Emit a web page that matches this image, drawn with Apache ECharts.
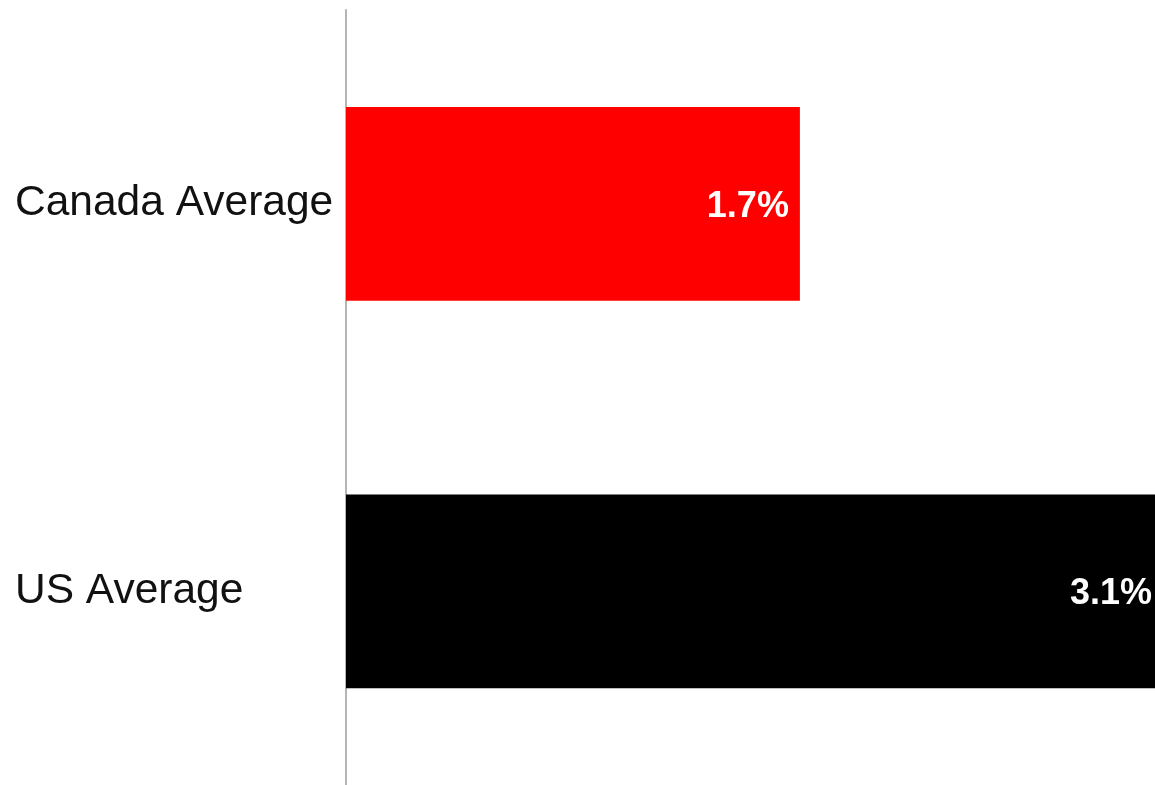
<!DOCTYPE html>
<html>
<head>
<meta charset="utf-8">
<script src="https://cdn.jsdelivr.net/npm/echarts@6/dist/echarts.min.js"></script>
<style>
  html, body { margin: 0; padding: 0; background: #fff; }
  #chart { width: 1155px; height: 785px; }
</style>
</head>
<body>
<div id="chart"></div>
<script>
// 类别与数值
const categories = ['Canada Average', 'US Average'];
const values = [1.7, 3.1];
const barColors = ['#ff0000', '#000000'];

const myChart = echarts.init(document.getElementById('chart'));

const option = {
  animation: false,
  grid: {
    left: 346,
    top: 10,
    right: 0,
    bottom: 0
  },
  xAxis: {
    type: 'value',
    min: 0,
    max: 3.03,   // 比 US 值略小，US 柱在右边缘被截断
    show: false,
    splitLine: { show: false }
  },
  yAxis: {
    type: 'category',
    data: categories,
    inverse: true,
    axisLine: { show: true, lineStyle: { color: '#b5b5b5', width: 2 } },
    axisTick: { show: false },
    axisLabel: {
      align: 'left',
      verticalAlign: 'middle',
      margin: 331,
      color: '#111',
      fontSize: 42.5,
      lineHeight: 42,
      padding: [14, 0, 0, 0],
      fontFamily: 'Liberation Sans, Arial, sans-serif'
    }
  },
  series: [{
    type: 'bar',
    barWidth: '50%',
    data: values.map((v, i) => ({
      value: v,
      itemStyle: { color: barColors[i] },
      // 被截断的那根柱子，标签贴近画面右边
      label: i === values.length - 1 ? { distance: 3 } : {}
    })),
    label: {
      show: true,
      position: 'insideRight',
      distance: 11,
      offset: [0, 3],
      color: '#fff',
      fontSize: 36,
      fontWeight: 'bold',
      fontFamily: 'Liberation Sans, Arial, sans-serif',
      formatter: p => p.value.toFixed(1) + '%'
    }
  }]
};

myChart.setOption(option);
</script>
</body>
</html>
